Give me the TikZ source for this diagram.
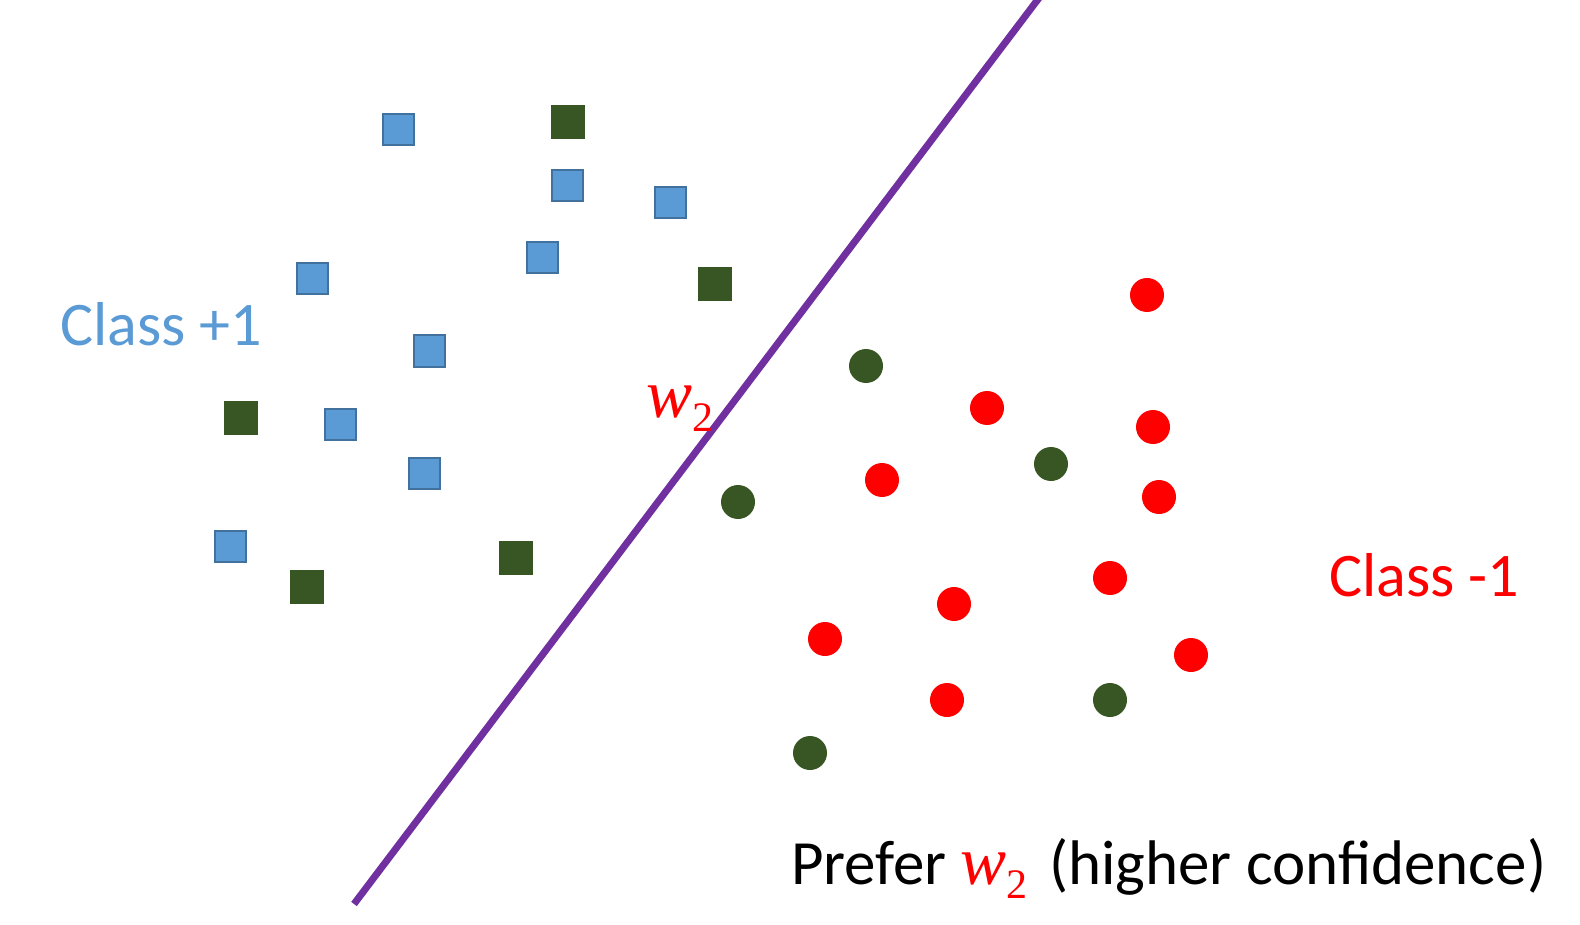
\documentclass[tikz,border=0pt]{standalone}
\usepackage{fontspec}
\setmainfont{Carlito}
\newfontfamily\wserif{Liberation Serif}
\definecolor{sqblue}{HTML}{5B9BD5}
\definecolor{sqedge}{HTML}{41719C}
\definecolor{dgreen}{HTML}{375623}
\definecolor{lpurple}{HTML}{7030A0}
\newcommand{\wtwo}{{\wserif\fontsize{69}{70}\selectfont\itshape w}\raisebox{-14pt}{\wserif\fontsize{42}{44}\selectfont 2}}
\begin{document}
\begin{tikzpicture}[x=1pt,y=-1pt,
  bsq/.style={rectangle,draw=sqedge,fill=sqblue,line width=2pt,minimum size=31pt,inner sep=0pt},
  gsq/.style={rectangle,fill=dgreen,minimum size=34pt,inner sep=0pt},
  rdot/.style={circle,fill=red,minimum size=34pt,inner sep=0pt},
  gdot/.style={circle,fill=dgreen,minimum size=34pt,inner sep=0pt},
  lbl/.style={anchor=base west,inner sep=0pt,font=\fontsize{62}{70}\selectfont}]
\useasboundingbox (0,0) rectangle (1580,925);
\clip (0,0) rectangle (1580,925);
\coordinate (l1) at (354,904);
\coordinate (l2) at (1045,-10);
\draw[lpurple,line width=7pt] (l1) -- (l2);
\foreach \x/\y [count=\i] in {398/130,567/186,670/203,542/258,312/279,429/351,340/424,424/473,230/546}
  \node[bsq] (b\i) at (\x,\y) {};
\foreach \x/\y [count=\i] in {568/122,715/284,241/418,516/558,307/587}
  \node[gsq] (g\i) at (\x,\y) {};
\foreach \x/\y [count=\i] in {1147/295,987/408,1153/427,882/480,1159/497,1110/578,954/604,825/639,1191/655,947/700}
  \node[rdot] (r\i) at (\x,\y) {};
\foreach \x/\y [count=\i] in {866/366,1051/464,738/502,1110/700,810/753}
  \node[gdot] (c\i) at (\x,\y) {};
\node[lbl,text=sqblue] (cp) at (60,345) {Class +1};
\node[lbl,text=red] (cm) at (1329,596) {Class -1};
\node[lbl,text=red] (w) at (646,417) {\wtwo};
\node[lbl,font=\fontsize{63}{72}\selectfont] (pf) at (791,884) {Prefer \textcolor{red}{\wtwo}\hspace{7pt} (higher confidence)};
\end{tikzpicture}
\end{document}
